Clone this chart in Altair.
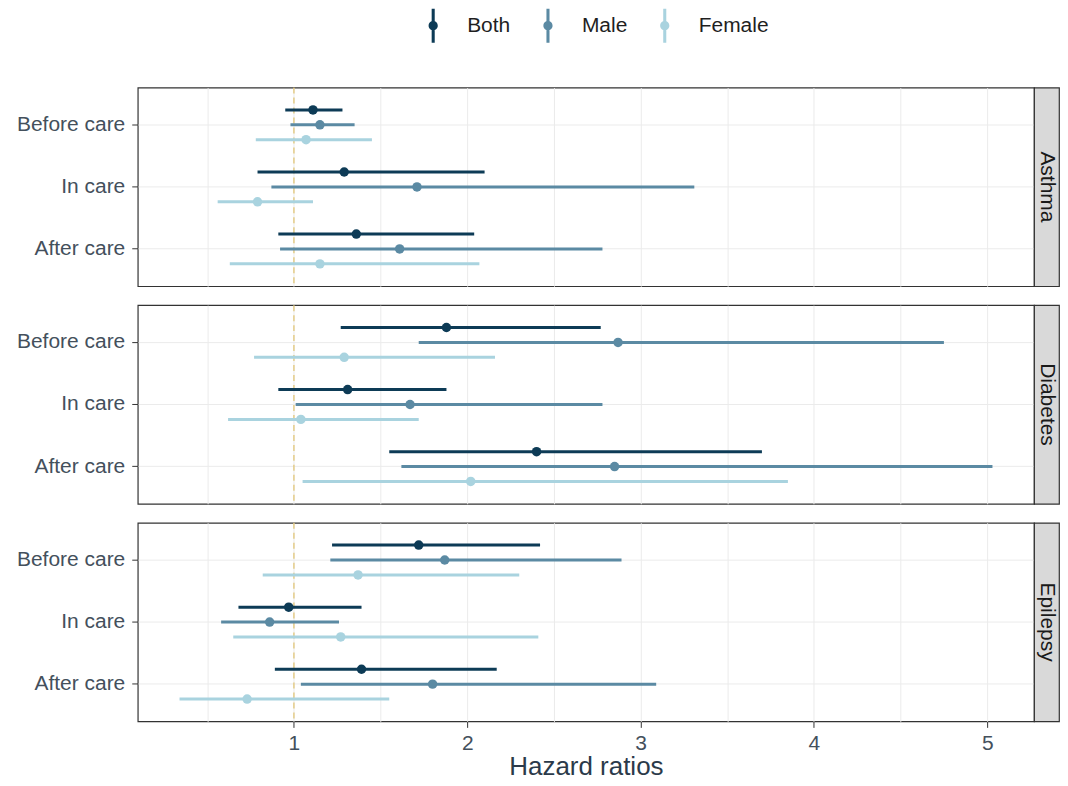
import altair as alt
import pandas as pd

conditions = ["Asthma", "Diabetes", "Epilepsy"]
periods = ["Before care", "In care", "After care"]
groups = ["Both", "Male", "Female"]
group_colors = ["#0d3b56", "#5b8aa3", "#a9d3df"]
grid_values = [0.5, 1, 1.5, 2, 2.5, 3, 3.5, 4, 4.5, 5]
reference_hr = 1

# order inside each list: (Before care: Both, Male, Female), (In care: ...), (After care: ...)
asthma_hr = [1.11, 1.15, 1.07, 1.29, 1.71, 0.79, 1.36, 1.61, 1.15]
asthma_lo = [0.95, 0.98, 0.78, 0.79, 0.87, 0.56, 0.91, 0.92, 0.63]
asthma_hi = [1.28, 1.35, 1.45, 2.10, 3.31, 1.11, 2.04, 2.78, 2.07]

diabetes_hr = [1.88, 2.87, 1.29, 1.31, 1.67, 1.04, 2.40, 2.85, 2.02]
diabetes_lo = [1.27, 1.72, 0.77, 0.91, 1.01, 0.62, 1.55, 1.62, 1.05]
diabetes_hi = [2.77, 4.75, 2.16, 1.88, 2.78, 1.72, 3.70, 5.03, 3.85]

epilepsy_hr = [1.72, 1.87, 1.37, 0.97, 0.86, 1.27, 1.39, 1.80, 0.73]
epilepsy_lo = [1.22, 1.21, 0.82, 0.68, 0.58, 0.65, 0.89, 1.04, 0.34]
epilepsy_hi = [2.42, 2.89, 2.30, 1.39, 1.26, 2.41, 2.17, 3.09, 1.55]

series = {
    "Asthma": (asthma_hr, asthma_lo, asthma_hi),
    "Diabetes": (diabetes_hr, diabetes_lo, diabetes_hi),
    "Epilepsy": (epilepsy_hr, epilepsy_lo, epilepsy_hi),
}

rows = []
for cond in conditions:
    hr, lo, hi = series[cond]
    k = 0
    for p in periods:
        for g in groups:
            rows.append({"condition": cond, "period": p, "group": g,
                         "hr": hr[k], "lo": lo[k], "hi": hi[k]})
            k += 1
df = pd.DataFrame(rows)

FONT = "Liberation Sans"
LABEL_COLOR = "#44505c"
PANEL_W = 898
PANEL_H = 199
STRIP_W = 25

x_scale = alt.Scale(domain=[0.099, 5.27], nice=False, zero=False)
y_scale = alt.Scale(domain=periods, paddingInner=0, paddingOuter=0.1)
off_scale = alt.Scale(domain=groups, paddingInner=0, paddingOuter=0.5833)
color_scale = alt.Scale(domain=groups, range=group_colors)

legend_symbol = ("M-0.09,-1 L0.09,-1 L0.09,1 L-0.09,1 Z "
                 "M-0.27,0 A0.27,0.27 0 1,1 0.27,0 A0.27,0.27 0 1,1 -0.27,0 Z")


def x_axis(bottom):
    return alt.Axis(
        values=grid_values,
        grid=True,
        gridColor="#EBEBEB",
        gridWidth=1,
        domain=False,
        labels=bottom,
        ticks=bottom,
        tickSize=6,
        tickColor="#333333",
        tickOpacity={"condition": {"test": "datum.value % 1 === 0", "value": 1}, "value": 0},
        labelExpr="datum.value % 1 === 0 ? format(datum.value, 'd') : ''",
        labelFontSize=21,
        labelColor=LABEL_COLOR,
        labelPadding=5,
        titleFontSize=26,
        titleFontWeight="normal",
        titleColor="#2b3a4a",
        titlePadding=0,
        title="Hazard ratios" if bottom else "",
    )


y_axis = alt.Axis(
    title=None,
    labelFontSize=21,
    labelColor=LABEL_COLOR,
    tickSize=6,
    tickColor="#333333",
    labelPadding=7,
    minExtent=129,
    maxExtent=129,
    domain=False,
    grid=True,
    gridColor="#EBEBEB",
)


def panel(cond, bottom):
    d = df[df["condition"] == cond]
    xa = x_axis(bottom)
    ref = alt.Chart(pd.DataFrame({"hr": [reference_hr]})).mark_rule(
        color="#e0c36e", strokeDash=[6, 4], strokeWidth=1.2
    ).encode(x=alt.X("hr:Q", scale=x_scale, axis=xa))
    base = alt.Chart(d).encode(
        y=alt.Y("period:N", sort=periods, scale=y_scale, axis=y_axis),
        yOffset=alt.YOffset("group:N", sort=groups, scale=off_scale),
        color=alt.Color(
            "group:N",
            sort=groups,
            scale=color_scale,
            legend=alt.Legend(
                title=None,
                orient="none",
                direction="horizontal",
                legendX=279,
                legendY=-79,
                padding=0,
                symbolType=legend_symbol,
                symbolSize=1156,
                symbolStrokeWidth=0,
                symbolOpacity=1,
                labelFontSize=21,
                labelColor="#1f1f1f",
                labelOffset=17,
                columnPadding=20,
            ),
        ),
    )
    pts = base.mark_point(filled=True, size=90, opacity=1).encode(
        x=alt.X("hr:Q", scale=x_scale, axis=xa)
    )
    bars = base.mark_rule(strokeWidth=3).encode(
        x=alt.X("lo:Q", scale=x_scale, axis=xa), x2="hi:Q"
    )
    main = alt.layer(ref, pts, bars).properties(width=PANEL_W, height=PANEL_H)
    strip = alt.Chart(pd.DataFrame({"condition": [cond]})).mark_text(
        angle=90, fontSize=21, color="#1a1a1a", align="center", baseline="middle"
    ).encode(text="condition:N").properties(
        width=STRIP_W, height=PANEL_H,
        view=alt.ViewBackground(fill="#D9D9D9", stroke="#333333", strokeWidth=1.2),
    )
    return alt.hconcat(main, strip, spacing=0, bounds="flush")


chart = alt.vconcat(
    *[panel(c, i == len(conditions) - 1) for i, c in enumerate(conditions)],
    spacing=15,
).properties(
    padding={"top": 0, "left": 0, "right": 0, "bottom": 0}
).configure(
    font=FONT
).configure_view(
    stroke="#333333", strokeWidth=1.2
)

chart.save("out.html", embed_options={"renderer": "svg", "actions": False})
